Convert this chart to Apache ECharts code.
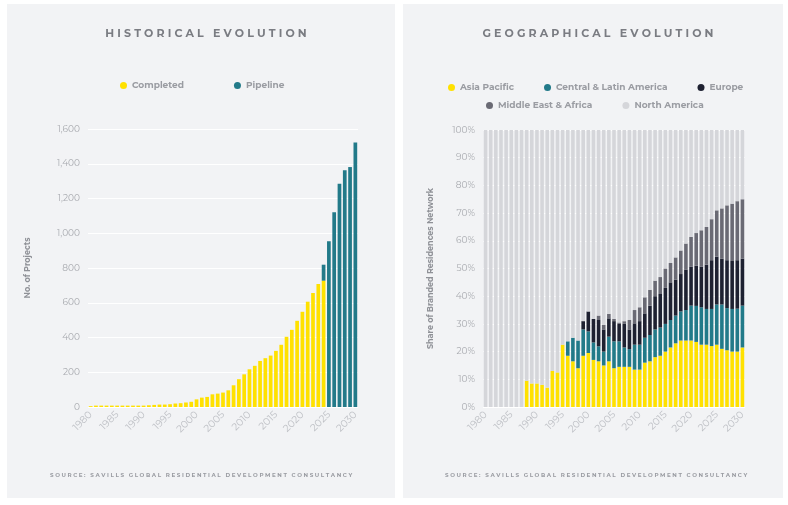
<!DOCTYPE html>
<html>
<head>
<meta charset="utf-8">
<script src="https://cdn.jsdelivr.net/npm/echarts@6/dist/echarts.min.js"></script>
<style>
  html, body { margin: 0; padding: 0; background: #fff; }
  #chart { width: 788px; height: 505px; }
</style>
</head>
<body>
<div id="chart"></div>
<script>
// years 1980..2030
const years = [];
for (let y = 1980; y <= 2030; y++) years.push(String(y));

// left chart: number of projects
const completed = [5,8,8,8,8,8,8,8,8,8,8,10,12,14,14,16,20,22,26,30,
  44,54,58,73,77,83,96,125,160,188,217,237,265,281,296,323,358,404,444,496,
  548,606,656,708,727,null,null,null,null,null,null];
const pipeline = [null,null,null,null,null,null,null,null,null,null,null,null,null,null,null,null,null,null,null,null,
  null,null,null,null,null,null,null,null,null,null,null,null,null,null,null,null,null,null,null,null,
  null,null,null,null,92,954,1121,1285,1362,1381,1523];
const projectTicks = ['0','200','400','600','800','1,000','1,200','1,400','1,600'];

// right chart: share of branded residences network (%), 1980..2030
const asiaPacific = [0,0,0,0,0,0,0,0,9.5,8.5,8.5,8,7,13,12.5,22.5,18.5,16.5,14,18.5,
  19.5,17,16.5,15,16.5,14,14.5,14.5,14.5,13.5,13.5,16,16.5,18,18.5,20,21.5,23,24,24,
  24,23.5,22.5,22.5,22,22.5,21,20.5,20,20,21.5];
const centralLatAm = [0,0,0,0,0,0,0,0,0,0,0,0,0,0,0,0,5.2,8.5,10,9.5,
  7.8,6.3,5.4,5,8.9,9.7,9.2,7,6.4,9,9,9,9.5,10,10.2,10,9.9,10,10.5,11,
  12.6,13,13.5,12.9,13.4,14.5,16,15.2,15.4,15.5,15.1];
const europe = [0,0,0,0,0,0,0,0,0,0,0,0,0,0,0,0,0,0,0,3,
  7.2,8.5,9.5,8,6.6,7.3,6.3,8.5,7.1,7.7,8.5,8.8,10.6,12,12.1,13,13.6,13,13.5,14.5,
  14.1,14.5,14.7,16,17.6,17.3,16.5,17.3,17.3,17.5,16.9];
const middleEastAfrica = [0,0,0,0,0,0,0,0,0,0,0,0,0,0,0,0,0,0,0,0,
  0,0,1.6,1.7,1.6,0.8,0.5,1,3.4,4.8,5,5.8,5.7,5.6,6.1,7,7,8,8.5,9.5,
  10.7,11.8,13.1,13.6,14.8,16.7,18.2,19.8,20.7,21.3,21.5];
const northAmerica = years.map((_, i) =>
  +(100 - asiaPacific[i] - centralLatAm[i] - europe[i] - middleEastAfrica[i]).toFixed(1));

const YELLOW = '#FFE100', TEAL = '#227A89', DARK = '#1E2131', GREY = '#6A6A74', LIGHT = '#D5D6DA';
const txt = '#A9ABB0';
const font = 'Montserrat, "Open Sans", sans-serif';
const source = 'SOURCE: SAVILLS GLOBAL RESIDENTIAL DEVELOPMENT CONSULTANCY'.split('').join(' ');

const xAxisBase = {
  type: 'category', data: years,
  axisLine: { show: false }, axisTick: { show: false },
  axisLabel: {
    color: '#BFC1C6', fontSize: 10, rotate: 45, margin: 6, fontFamily: font,
    interval: (i) => i % 5 === 0
  }
};
const yLabel = { color: txt, fontSize: 9, fontFamily: font };
const split = { lineStyle: { color: '#ffffff', width: 1 } };
const legendText = { color: '#9A9CA2', fontSize: 9, fontWeight: 'bold', fontFamily: font };

const chart = echarts.init(document.getElementById('chart'));
chart.setOption({
  animation: false,
  backgroundColor: '#ffffff',
  graphic: [
    { type: 'rect', shape: { x: 7, y: 4, width: 388, height: 494 }, style: { fill: '#F2F3F5' }, z: -10 },
    { type: 'rect', shape: { x: 403, y: 4, width: 380, height: 494 }, style: { fill: '#F2F3F5' }, z: -10 },
    { type: 'text', left: 50, top: 472, style: { text: source, fill: '#9A9CA2', font: 'bold 5.6px ' + font } },
    { type: 'text', left: 445, top: 472, style: { text: source, fill: '#9A9CA2', font: 'bold 5.6px ' + font } }
  ],
  title: [
    { text: 'H I S T O R I C A L   E V O L U T I O N', left: 201, top: 23, textAlign: 'center',
      textStyle: { color: '#7A7C82', fontSize: 11, fontWeight: 'bold', fontFamily: font } },
    { text: 'G E O G R A P H I C A L   E V O L U T I O N', left: 593, top: 23, textAlign: 'center',
      textStyle: { color: '#7A7C82', fontSize: 11, fontWeight: 'bold', fontFamily: font } }
  ],
  legend: [
    { data: ['Completed', 'Pipeline'], left: 115, top: 76, icon: 'circle', itemWidth: 7, itemHeight: 7, itemGap: 50, textStyle: legendText },
    { data: ['Asia Pacific', 'Central & Latin America', 'Europe'], left: 443, top: 78, icon: 'circle', itemWidth: 7, itemHeight: 7, itemGap: 30, textStyle: legendText },
    { data: ['Middle East & Africa', 'North America'], left: 481, top: 96, icon: 'circle', itemWidth: 7, itemHeight: 7, itemGap: 30, textStyle: legendText }
  ],
  grid: [
    { left: 88, right: 788 - 358, top: 129, bottom: 505 - 407 },
    { left: 483, right: 788 - 745, top: 130, bottom: 505 - 407 }
  ],
  xAxis: [
    Object.assign({ gridIndex: 0 }, xAxisBase),
    Object.assign({ gridIndex: 1 }, xAxisBase)
  ],
  yAxis: [
    { gridIndex: 0, type: 'value', min: 0, max: 1600, interval: 200,
      name: 'No. of Projects', nameLocation: 'middle', nameGap: 56, nameRotate: 90,
      nameTextStyle: { color: '#8F9197', fontSize: 8, fontWeight: 'bold', fontFamily: font },
      axisLabel: Object.assign({ formatter: (v) => projectTicks[v / 200] }, yLabel), splitLine: split },
    { gridIndex: 1, type: 'value', min: 0, max: 100, interval: 10,
      name: 'Share of Branded Residences Network', nameLocation: 'middle', nameGap: 48, nameRotate: 90,
      nameTextStyle: { color: '#8F9197', fontSize: 8, fontWeight: 'bold', fontFamily: font },
      axisLabel: Object.assign({ formatter: '{value}%' }, yLabel), splitLine: split }
  ],
  series: [
    { name: 'Completed', type: 'bar', stack: 'p', xAxisIndex: 0, yAxisIndex: 0, data: completed, itemStyle: { color: YELLOW }, barCategoryGap: '30%' },
    { name: 'Pipeline', type: 'bar', stack: 'p', xAxisIndex: 0, yAxisIndex: 0, data: pipeline, itemStyle: { color: TEAL } },
    { name: 'Asia Pacific', type: 'bar', stack: 'g', xAxisIndex: 1, yAxisIndex: 1, data: asiaPacific, itemStyle: { color: YELLOW }, barCategoryGap: '30%' },
    { name: 'Central & Latin America', type: 'bar', stack: 'g', xAxisIndex: 1, yAxisIndex: 1, data: centralLatAm, itemStyle: { color: TEAL } },
    { name: 'Europe', type: 'bar', stack: 'g', xAxisIndex: 1, yAxisIndex: 1, data: europe, itemStyle: { color: DARK } },
    { name: 'Middle East & Africa', type: 'bar', stack: 'g', xAxisIndex: 1, yAxisIndex: 1, data: middleEastAfrica, itemStyle: { color: GREY } },
    { name: 'North America', type: 'bar', stack: 'g', xAxisIndex: 1, yAxisIndex: 1, data: northAmerica, itemStyle: { color: LIGHT } }
  ]
});
</script>
</body>
</html>
